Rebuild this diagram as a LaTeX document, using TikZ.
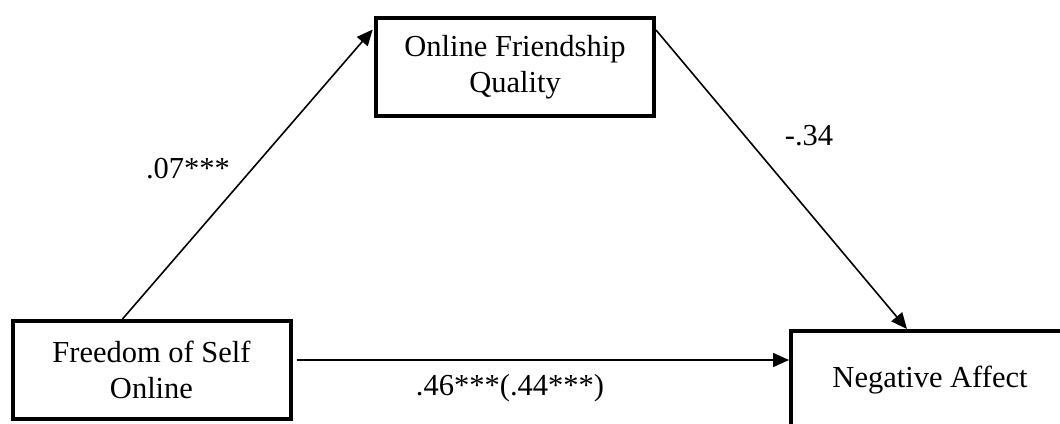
\documentclass[tikz,border=0pt]{standalone}
\usepackage{fontspec}
\setmainfont{Liberation Serif}
\usetikzlibrary{arrows.meta}
\begin{document}
\begin{tikzpicture}[x=1pt,y=-1pt,
  varbox/.style={draw, line width=4pt, line join=miter, inner sep=0pt,
    minimum width=278pt, minimum height=98pt, align=center,
    font=\fontsize{30.5}{36}\selectfont},
  path/.style={line width=1.6pt, -{Triangle[length=16pt,width=14pt]}},
  coef/.style={anchor=base, inner sep=0pt, font=\fontsize{30.5}{36}\selectfont}]
  \useasboundingbox (0,0) rectangle (1060,423);
  \begin{scope}
    \clip (0,0) rectangle (1060,423);
    \node[varbox] (ofq) at (515,67) {Online Friendship\\Quality};
    \node[varbox] (fos) at (151.5,370) {Freedom of Self\\Online};
    \node[varbox] (na) at (930,380) {Negative Affect};
  \end{scope}
  % a path: predictor to mediator
  \draw[path, shorten >=2pt] ([xshift=112pt]fos.north west) -- ([yshift=-12pt]ofq.north west);
  % b path: mediator to outcome
  \draw[path] ([yshift=-14pt]ofq.north east) -- ([xshift=118pt]na.north west);
  % c path: direct effect
  \draw[path, shorten <=4pt] ([yshift=10pt]fos.east) -- ([yshift=10pt]fos.east -| na.west);
  \node[coef] (ca) at (188,178) {.07***};
  \node[coef] (cb) at (809,145) {-.34};
  \node[coef] (cc) at (510,395) {.46***(.44***)};
\end{tikzpicture}
\end{document}
